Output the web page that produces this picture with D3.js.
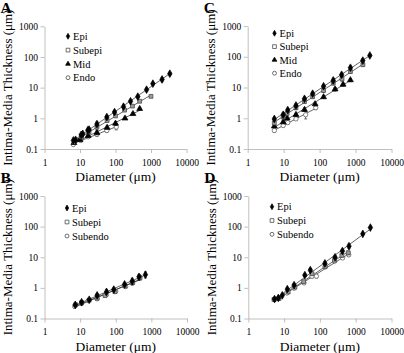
<!DOCTYPE html>
<html><head><meta charset="utf-8">
<script src="https://cdn.jsdelivr.net/npm/d3@7"></script>
<style>
body{margin:0;background:#fff}
svg{display:block}
text{font-family:"Times New Roman","Liberation Serif",Times,serif;fill:#000}
</style></head><body>
<svg id="c" width="404" height="353"></svg>
<script>
// ---------- data (diameter µm, intima-media thickness µm, error µm) ----------
const xTicks = [1, 10, 100, 1000, 10000];
const yTicks = [0.1, 1, 10, 100, 1000];
const xTickLabels = ["1", "10", "100", "1000", "10000"];
const yTickLabels = ["0.1", "1", "10", "100", "1000"];
const xTitle = "Diameter (\u03bcm)";
const yTitle = "Intima-Media Thickness (\u03bcm)";
const panelLetters = ["A", "B", "C", "D"];

// Panel A
const A_epi_d = [6.5, 7.5, 10.8, 12, 16.6, 18, 30, 57, 94, 168, 265, 425, 750, 1130, 2050, 3390];
const A_epi_v = [0.19, 0.2, 0.29, 0.31, 0.41, 0.43, 0.65, 1.1, 1.6, 2.4, 3.6, 5.1, 8.6, 13.5, 18.5, 28.5];
const A_epi_e = [0.02, 0.02, 0.03, 0.03, 0.04, 0.05, 0.12, 0.15, 0.2, 0.2, 0.3, 0.4, 0.6, 1.0, 3.0, 2.0];
const A_sub_d = [7, 11, 18, 30, 58, 100, 180, 300, 480, 1000];
const A_sub_v = [0.17, 0.25, 0.36, 0.52, 0.85, 1.2, 1.85, 2.5, 3.6, 5.2];
const A_sub_e = [0.02, 0.03, 0.04, 0.08, 0.1, 0.12, 0.15, 0.2, 0.3, 0.4];
const A_mid_d = [6.8, 10, 17, 30, 58, 100, 185, 310, 480];
const A_mid_v = [0.16, 0.2, 0.27, 0.34, 0.5, 0.68, 1.0, 1.4, 2.05];
const A_mid_e = [0.02, 0.02, 0.03, 0.05, 0.06, 0.1, 0.08, 0.1, 0.2];
const A_endo_d = [6.5, 10.5, 17, 30, 57, 105];
const A_endo_v = [0.14, 0.19, 0.25, 0.3, 0.4, 0.52];
const A_endo_e = [0.01, 0.02, 0.03, 0.04, 0.05, 0.1];

// Panel B
const B_epi_d = [7.3, 11, 18, 30, 55, 88, 177, 290, 450, 680];
const B_epi_v = [0.28, 0.34, 0.41, 0.57, 0.74, 0.88, 1.3, 1.66, 2.3, 2.7];
const B_epi_e = [0.03, 0.03, 0.03, 0.06, 0.15, 0.1, 0.15, 0.4, 0.4, 0.6];
const B_sub_d = [7.5, 11, 18, 30, 50, 95, 180, 300, 480];
const B_sub_v = [0.28, 0.33, 0.4, 0.46, 0.56, 0.75, 1.15, 1.5, 2.1];
const B_sub_e = [0.03, 0.03, 0.03, 0.04, 0.05, 0.08, 0.1, 0.2, 0.3];
const B_endo_d = [7, 11, 17, 30, 55, 100, 190, 290, 470];
const B_endo_v = [0.25, 0.31, 0.38, 0.44, 0.6, 0.78, 1.1, 1.45, 2.3];
const B_endo_e = [0.03, 0.03, 0.03, 0.04, 0.06, 0.08, 0.1, 0.2, 0.3];

// Panel C
const C_epi_d = [5.5, 9.7, 13, 22, 38, 64, 129, 240, 410, 720, 1590, 2500];
const C_epi_v = [0.95, 1.3, 1.85, 2.6, 4.3, 6.3, 11, 17, 26, 44, 75, 110];
const C_epi_e = [0.1, 0.2, 0.2, 0.3, 0.5, 0.8, 1.5, 3, 3, 6, 8, 5];
const C_sub_d = [5.5, 9.7, 12.5, 22, 38, 64, 129, 240, 420, 720, 1600];
const C_sub_v = [0.7, 1.1, 1.45, 2.2, 3.5, 5.0, 8.0, 14, 19, 33, 55];
const C_sub_e = [0.08, 0.15, 0.2, 0.3, 0.4, 0.6, 1, 2, 3, 4, 6];
const C_mid_d = [5.5, 9.7, 12.5, 22, 38, 75, 129, 270, 450, 720];
const C_mid_v = [0.55, 0.75, 1.0, 1.3, 1.9, 2.9, 4.9, 8.8, 12.5, 17.5];
const C_mid_e = [0.05, 0.08, 0.1, 0.15, 0.2, 0.4, 0.5, 1.2, 1.5, 2];
const C_endo_d = [5.5, 9.7, 13, 22, 41, 78];
const C_endo_v = [0.4, 0.58, 0.72, 0.95, 1.3, 2.2];
const C_endo_e = [0.05, 0.06, 0.08, 0.1, 0.35, 0.3];

// Panel D
const D_epi_d = [5.4, 6.9, 8.9, 12.3, 19, 38, 54, 138, 265, 425, 650, 1580, 2570];
const D_epi_v = [0.43, 0.47, 0.57, 0.91, 1.23, 2.6, 3.8, 6.3, 10, 16, 23, 58, 93];
const D_epi_e = [0.03, 0.03, 0.05, 0.1, 0.1, 0.2, 0.4, 0.6, 1, 2, 4, 3, 5];
const D_sub_d = [5.2, 7.2, 13, 20, 35, 60, 140, 255, 410, 620];
const D_sub_v = [0.42, 0.45, 0.73, 1.05, 1.6, 2.9, 5, 8, 11.5, 14];
const D_sub_e = [0.03, 0.03, 0.06, 0.1, 0.15, 0.3, 0.5, 0.8, 1.5, 2];
const D_endo_d = [5.5, 7, 12, 19, 36, 60, 80, 140, 260, 430, 640];
const D_endo_v = [0.42, 0.45, 0.68, 0.97, 1.45, 2.4, 2.4, 4.8, 7.5, 9.5, 12];
const D_endo_e = [0.03, 0.03, 0.05, 0.08, 0.15, 0.3, 0.3, 0.5, 0.8, 1, 1.5];

// ---------- styles ----------
const FONT = '"Times New Roman","Liberation Serif",Times,serif';
const markerStyle = {
  Epi:     {type: d3.symbolDiamond,  size: 17, fill: "#000",  stroke: "#000"},
  Subepi:  {type: d3.symbolSquare,   size: 15, fill: "#9a9a9a", stroke: "#444"},
  Mid:     {type: d3.symbolTriangle, size: 15, fill: "#000",  stroke: "#000"},
  Endo:    {type: d3.symbolCircle,   size: 15, fill: "#fff",  stroke: "#555"},
  Subendo: {type: d3.symbolCircle,   size: 15, fill: "#fff",  stroke: "#555"}
};
const legendStyle = {
  Epi:     {fill: "#000", stroke: "#000", size: 10},
  Subepi:  {fill: "#fff", stroke: "#333", size: 14},
  Mid:     {fill: "#000", stroke: "#000", size: 10},
  Endo:    {fill: "#fff", stroke: "#333", size: 12},
  Subendo: {fill: "#fff", stroke: "#333", size: 12}
};

function mk(name, d, v, e) { return {name, pts: d.map((x, i) => ({d: x, v: v[i], e: e[i]}))}; }

const panels = [
  {letter: panelLetters[0], x0: 44.5, x1: 186.5, yb: 149, yt: 26.3, lx: 68, ly: 36.3, ldy: 13.8,
   series: [mk("Epi", A_epi_d, A_epi_v, A_epi_e), mk("Subepi", A_sub_d, A_sub_v, A_sub_e),
            mk("Mid", A_mid_d, A_mid_v, A_mid_e), mk("Endo", A_endo_d, A_endo_v, A_endo_e)]},
  {letter: panelLetters[1], x0: 44.5, x1: 187, yb: 318.5, yt: 196, lx: 67, ly: 208, ldy: 14,
   series: [mk("Epi", B_epi_d, B_epi_v, B_epi_e), mk("Subepi", B_sub_d, B_sub_v, B_sub_e),
            mk("Subendo", B_endo_d, B_endo_v, B_endo_e)]},
  {letter: panelLetters[2], x0: 247.7, x1: 391.5, yb: 149, yt: 26, lx: 274.5, ly: 33.3, ldy: 13.3,
   series: [mk("Epi", C_epi_d, C_epi_v, C_epi_e), mk("Subepi", C_sub_d, C_sub_v, C_sub_e),
            mk("Mid", C_mid_d, C_mid_v, C_mid_e), mk("Endo", C_endo_d, C_endo_v, C_endo_e)]},
  {letter: panelLetters[3], x0: 248.3, x1: 391.5, yb: 318.5, yt: 196, lx: 272, ly: 206.7, ldy: 13.8,
   series: [mk("Epi", D_epi_d, D_epi_v, D_epi_e), mk("Subepi", D_sub_d, D_sub_v, D_sub_e),
            mk("Subendo", D_endo_d, D_endo_v, D_endo_e)]}
];

const svg = d3.select("#c");
const axisColor = "#b0b0b0";

panels.forEach(p => {
  const x = d3.scaleLog().domain([1, 10000]).range([p.x0, p.x1]);
  const y = d3.scaleLog().domain([0.1, 1000]).range([p.yb, p.yt]);
  const g = svg.append("g");

  // axes
  const xa = g.append("g").attr("transform", `translate(0,${p.yb})`)
    .call(d3.axisBottom(x).tickValues(xTicks).tickFormat((d, i) => xTickLabels[i]).tickSize(4).tickSizeOuter(0).tickPadding(6));
  const ya = g.append("g").attr("transform", `translate(${p.x0},0)`)
    .call(d3.axisLeft(y).tickValues(yTicks).tickFormat((d, i) => yTickLabels[i]).tickSize(4).tickSizeOuter(0).tickPadding(2.5));
  [xa, ya].forEach(a => {
    a.attr("font-family", FONT).attr("font-size", 9.5);
    a.select(".domain").attr("stroke", axisColor).attr("stroke-width", 0.8);
    a.selectAll(".tick line").attr("stroke", axisColor).attr("stroke-width", 0.8);
    a.selectAll(".tick text").attr("fill", "#000").style("font-size", "9.5px").style("font-family", FONT);
  });

  // axis titles
  g.append("text").attr("x", (p.x0 + p.x1) / 2).attr("y", p.yb + 32)
    .attr("text-anchor", "middle").style("font-size", "13.5px").style("font-family", FONT).text(xTitle);
  const tx = p.x0 - 32.5, ty = (p.yb + p.yt) / 2;
  g.append("text").attr("transform", `translate(${tx},${ty}) rotate(-90)`)
    .attr("text-anchor", "middle").style("font-size", "13px").style("font-family", FONT).text(yTitle);

  // panel letter
  g.append("text").attr("x", p.x0 - 44).attr("y", p.yt - 13.5)
    .style("font-size", "15.5px").style("font-weight", "bold").style("font-family", FONT).text(p.letter);

  // trend lines (power fit in log-log space)
  p.series.forEach(s => {
    const lx = s.pts.map(q => Math.log10(q.d)), ly = s.pts.map(q => Math.log10(q.v));
    const mx = d3.mean(lx), my = d3.mean(ly);
    const b = d3.sum(lx, (v, i) => (v - mx) * (ly[i] - my)) / d3.sum(lx, v => (v - mx) * (v - mx));
    const a = my - b * mx;
    const [dmin, dmax] = d3.extent(s.pts, q => q.d);
    g.append("line")
      .attr("x1", x(dmin)).attr("y1", y(Math.pow(10, a + b * Math.log10(dmin))))
      .attr("x2", x(dmax)).attr("y2", y(Math.pow(10, a + b * Math.log10(dmax))))
      .attr("stroke", "#222").attr("stroke-width", 0.7);
  });

  // error bars and markers
  p.series.slice().reverse().forEach(s => {
    const st = markerStyle[s.name];
    const sg = g.append("g");
    s.pts.forEach(q => {
      const xx = x(q.d), ya1 = y(q.v + q.e), ya2 = y(Math.max(q.v - q.e, 0.1001));
      sg.append("line").attr("x1", xx).attr("x2", xx).attr("y1", ya1).attr("y2", ya2)
        .attr("stroke", "#333").attr("stroke-width", 0.7);
      sg.append("line").attr("x1", xx - 1.5).attr("x2", xx + 1.5).attr("y1", ya1).attr("y2", ya1)
        .attr("stroke", "#333").attr("stroke-width", 0.7);
      sg.append("line").attr("x1", xx - 1.5).attr("x2", xx + 1.5).attr("y1", ya2).attr("y2", ya2)
        .attr("stroke", "#333").attr("stroke-width", 0.7);
    });
    sg.selectAll("path.m").data(s.pts).join("path").attr("class", "m")
      .attr("transform", q => `translate(${x(q.d)},${y(q.v)})`)
      .attr("d", d3.symbol().type(st.type).size(st.size))
      .attr("fill", st.fill).attr("stroke", st.stroke).attr("stroke-width", 0.7);
  });

  // legend
  p.series.forEach((s, i) => {
    const cy = p.ly + i * p.ldy;
    const st = markerStyle[s.name], ls = legendStyle[s.name];
    g.append("path").attr("transform", `translate(${p.lx},${cy})`)
      .attr("d", d3.symbol().type(st.type).size(ls.size))
      .attr("fill", ls.fill).attr("stroke", ls.stroke).attr("stroke-width", 0.7);
    g.append("text").attr("x", p.lx + 5).attr("y", cy + 3.6)
      .style("font-size", "10.5px").style("font-family", FONT).text(s.name);
  });
});
</script></body></html>
